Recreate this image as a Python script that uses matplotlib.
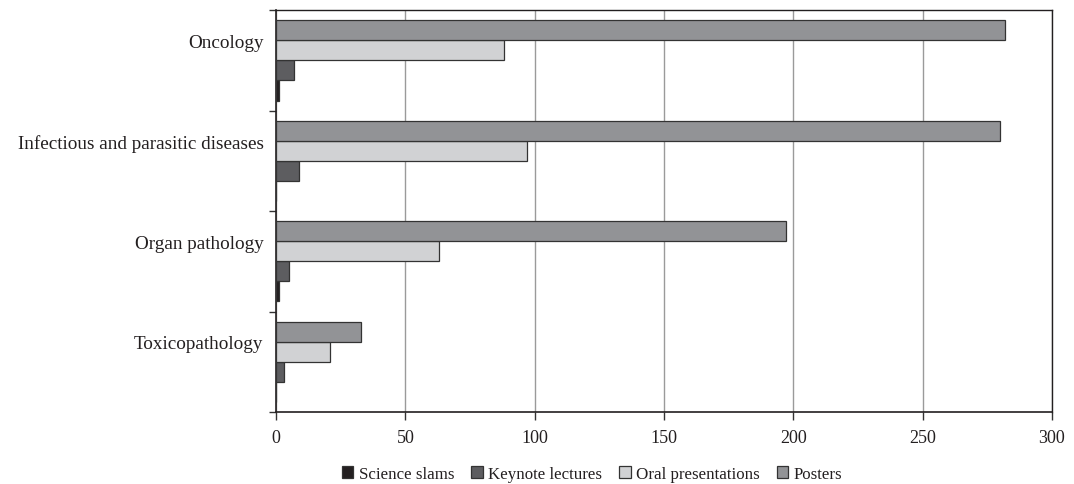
import numpy as np
import matplotlib.pyplot as plt

plt.rcParams['font.family'] = ['Liberation Serif', 'DejaVu Serif']

# data
categories = ["Oncology", "Infectious and parasitic diseases", "Organ pathology", "Toxicopathology"]
science_slams = [1, 0, 1, 0]
keynote_lectures = [7, 9, 5, 3]
oral_presentations = [88, 97, 63, 21]
posters = [282, 280, 197, 33]

series = [
    ("Science slams", science_slams, "#231f20", -0.3),
    ("Keynote lectures", keynote_lectures, "#5d5d60", -0.1),
    ("Oral presentations", oral_presentations, "#d1d2d4", 0.1),
    ("Posters", posters, "#929396", 0.3),
]

fig = plt.figure(figsize=(10.74, 4.85), dpi=100)
ax = fig.add_axes([0.257, 0.1485, 0.7225, 0.8285])

# Oncology on top
ypos = np.arange(len(categories))[::-1]

for name, vals, col, off in series:
    ax.barh(ypos + off, vals, height=0.2, color=col, edgecolor="#333333",
            linewidth=0.9, label=name, zorder=3)

ax.set_xlim(0, 300)
ax.set_ylim(-0.5, len(categories) - 0.5)
ax.set_xticks(np.arange(0, 301, 50))
ax.xaxis.grid(True, color="#9a9a9a", linewidth=1, zorder=0)

# ticks at category boundaries, labels sitting a bit above group centre
ax.set_yticks(np.arange(-0.5, len(categories), 1.0))
ax.set_yticklabels([])
ax.set_yticks(ypos + 0.2, minor=True)
ax.set_yticklabels(categories, minor=True)
ax.tick_params(axis="y", which="minor", length=0, pad=9, labelsize=13.8)
ax.tick_params(axis="y", which="major", length=5, width=1, color="#333333")
ax.tick_params(axis="x", length=6, width=1, color="#333333", pad=6, labelsize=13)
ax.tick_params(which="both", labelcolor="#231f20")

for s in ax.spines.values():
    s.set_color("#231f20")
    s.set_linewidth(1.2)
for s in ["top", "right"]:
    ax.spines[s].set_linewidth(1.0)

ax.legend(loc="center", bbox_to_anchor=(0.407, -0.155), ncol=4, frameon=False,
          fontsize=12.2, handlelength=0.7, handleheight=0.7, handletextpad=0.3,
          columnspacing=1.0, labelcolor="#231f20")

fig.savefig("out.png", dpi=100)
